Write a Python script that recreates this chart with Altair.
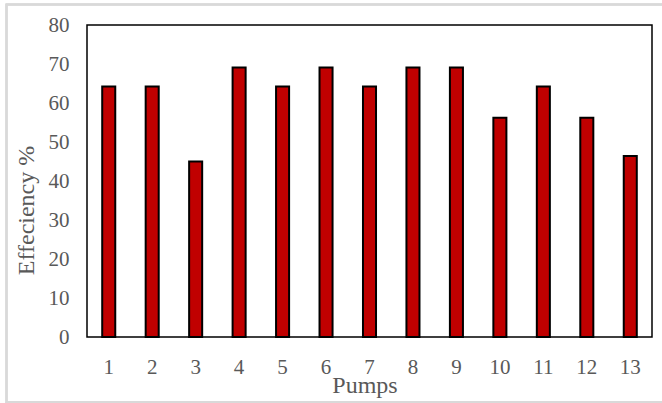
import altair as alt
import pandas as pd

pumps = [str(i) for i in range(1, 14)]
efficiency = [64.2, 64.2, 45.0, 69.1, 64.2, 69.1, 64.2, 69.1, 69.1, 56.2, 64.2, 56.2, 46.4]
y_ticks = [0, 10, 20, 30, 40, 50, 60, 70, 80]

df = pd.DataFrame({"Pumps": pumps, "Eff": efficiency})

FONT = "Liberation Serif"
GREY = "#595959"

bars = alt.Chart(df).mark_bar(
    color="#C00000", stroke="black", strokeWidth=2
).encode(
    x=alt.X("Pumps:N", sort=pumps,
            scale=alt.Scale(paddingInner=0.70, paddingOuter=0.35),
            axis=alt.Axis(title="Pumps", labelAngle=0, ticks=False, domain=False,
                          labelFont=FONT, labelFontSize=21, labelColor=GREY,
                          labelPadding=19, titleFont=FONT, titleFontSize=24,
                          titleFontWeight="normal", titleColor=GREY,
                          titleBaseline="alphabetic", titleY=55, titleX=277.5,
                          titleAlign="center")),
    y=alt.Y("Eff:Q", scale=alt.Scale(domain=[0, 80], nice=False),
            axis=alt.Axis(title="Effeciency %", values=y_ticks, grid=False, ticks=False,
                          domain=False, labelFont=FONT, labelFontSize=21,
                          labelColor=GREY, labelPadding=18,
                          titleFont=FONT, titleFontSize=24, titleFontWeight="normal",
                          titleColor=GREY, titleAngle=270, titleBaseline="alphabetic",
                          titleX=-54, titleY=185, titleAlign="center")),
)

border = alt.Chart(df).mark_rect(
    fill=None, stroke="#D9D9D9", strokeWidth=1.5, clip=False
).encode(
    x=alt.value(-80.5), x2=alt.value(700), y=alt.value(-20.5), y2=alt.value(377)
)

chart = alt.layer(border, bars).properties(
    width=565, height=312,
    autosize=alt.AutoSizeParams(type="none"),
    padding={"left": 87, "top": 25, "right": 10, "bottom": 66},
    background="white",
).configure_view(stroke="black", strokeWidth=1.5)

chart.save("out.html", embed_options={"renderer": "svg", "actions": False})
